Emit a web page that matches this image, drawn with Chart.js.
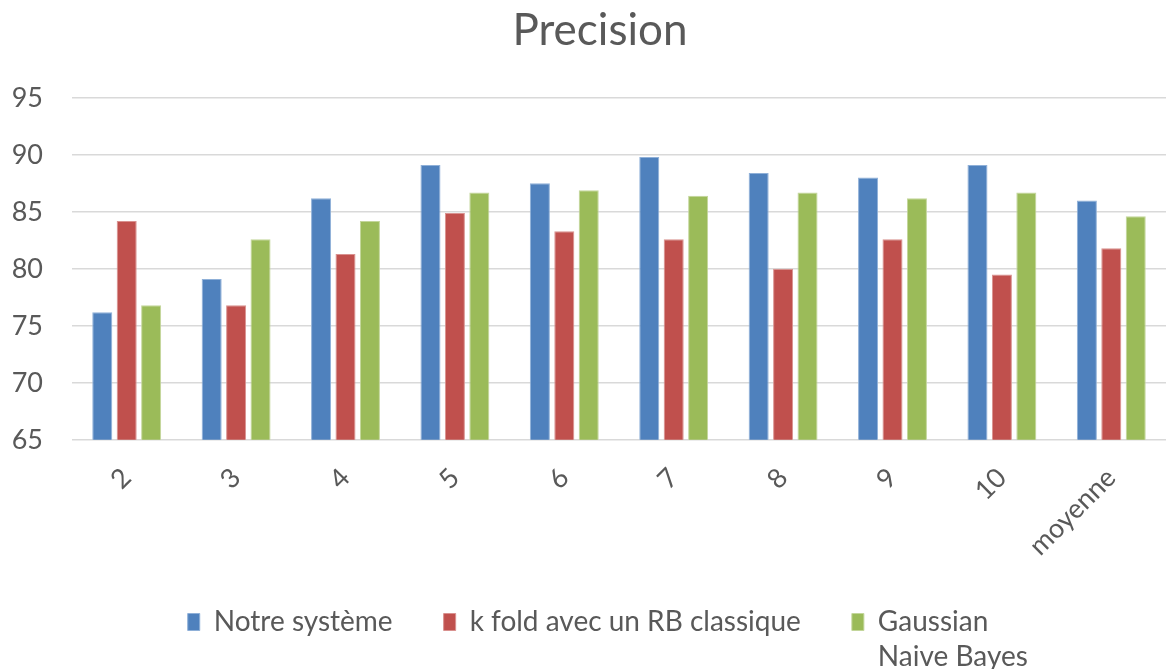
<!DOCTYPE html>
<html>
<head>
<meta charset="utf-8">
<script src="https://cdn.jsdelivr.net/npm/chart.js@4/dist/chart.umd.min.js"></script>
<style>
  html, body { margin: 0; padding: 0; background: #ffffff; }
  #wrap { width: 1166px; height: 669px; position: relative; }
</style>
</head>
<body>
<div id="wrap"><canvas id="chart"></canvas></div>
<script>
// Categories (number of folds, plus the average)
const categories = ['2', '3', '4', '5', '6', '7', '8', '9', '10', 'moyenne'];

// Precision per method
const notreSysteme = [76.2, 79.1, 86.2, 89.1, 87.5, 89.8, 88.4, 88.0, 89.1, 86.0];
const kFoldRB = [84.2, 76.8, 81.3, 84.9, 83.3, 82.6, 80.0, 82.6, 79.5, 81.8];
const gaussianNB = [76.8, 82.6, 84.2, 86.7, 86.9, 86.4, 86.7, 86.2, 86.7, 84.6];

// Series names (the last one is split over two lines in the legend)
const seriesNames = ['Notre système', 'k fold avec un RB classique', ['Gaussian', 'Naive Bayes']];

// Y axis range
const yMin = 65, yMax = 95, yStep = 5;

const textColor = '#595959';
const fontFamily = 'Lato, "Open Sans", sans-serif';

// Nudges the title a little to the right of the canvas centre
const titleNudge = {
  id: 'titleNudge',
  afterLayout(chart) {
    const t = chart.titleBlock;
    if (t) { t.left += 12; t.right += 12; }
  }
};

// Draws the second line of a multi-line legend label under the first one
const legendSecondLine = {
  id: 'legendSecondLine',
  afterDraw(chart) {
    const legend = chart.legend;
    if (!legend || !legend.legendHitBoxes) return;
    const ctx = chart.ctx;
    const opts = legend.options.labels;
    const size = opts.font.size;
    chart.data.datasets.forEach((ds, i) => {
      const lines = ds.legendLines;
      if (!lines || lines.length < 2) return;
      const box = legend.legendHitBoxes[i];
      ctx.save();
      ctx.fillStyle = textColor;
      ctx.font = `${size}px ${fontFamily}`;
      ctx.textAlign = 'left';
      ctx.textBaseline = 'middle';
      const x = box.left + opts.boxWidth + size / 2;
      for (let k = 1; k < lines.length; k++) {
        ctx.fillText(lines[k], x, box.top + box.height / 2 + k * size * 1.25);
      }
      ctx.restore();
    });
  }
};

function makeDataset(name, data, color, edge) {
  const lines = Array.isArray(name) ? name : [name];
  return {
    label: lines[0],
    legendLines: lines,
    data: data,
    backgroundColor: color,
    borderColor: edge,
    borderWidth: 1,
    barPercentage: 0.82,
    categoryPercentage: 0.67
  };
}

new Chart(document.getElementById('chart'), {
  type: 'bar',
  data: {
    labels: categories,
    datasets: [
      makeDataset(seriesNames[0], notreSysteme, '#4F81BD', '#8fb0d8'),
      makeDataset(seriesNames[1], kFoldRB, '#C0504D', '#d9918f'),
      makeDataset(seriesNames[2], gaussianNB, '#9BBB59', '#c3d69b')
    ]
  },
  options: {
    responsive: true,
    maintainAspectRatio: false,
    animation: false,
    layout: { padding: { left: 10, right: 0, top: 0, bottom: 23 } },
    plugins: {
      title: {
        display: true,
        text: 'Precision',
        color: textColor,
        font: { family: fontFamily, size: 44, weight: 'normal' },
        padding: { top: 4, bottom: 41 }
      },
      legend: {
        display: true,
        position: 'bottom',
        labels: {
          color: textColor,
          font: { family: fontFamily, size: 28 },
          boxWidth: 12,
          boxHeight: 17,
          padding: 51
        }
      },
      tooltip: { enabled: false }
    },
    scales: {
      x: {
        grid: { display: false },
        border: { display: false },
        ticks: {
          color: textColor,
          font: { family: fontFamily, size: 27 },
          minRotation: 45,
          maxRotation: 45,
          padding: 14
        },
        afterFit(scale) { scale.height = scale.height - 19; }
      },
      y: {
        min: yMin,
        max: yMax,
        grid: { color: '#d9d9d9', lineWidth: 1.5, drawTicks: false },
        border: { display: false },
        ticks: {
          stepSize: yStep,
          color: textColor,
          font: { family: fontFamily, size: 27 },
          padding: 29
        },
        afterFit(scale) { scale.width = 62; }
      }
    }
  },
  plugins: [titleNudge, legendSecondLine]
});
</script>
</body>
</html>
